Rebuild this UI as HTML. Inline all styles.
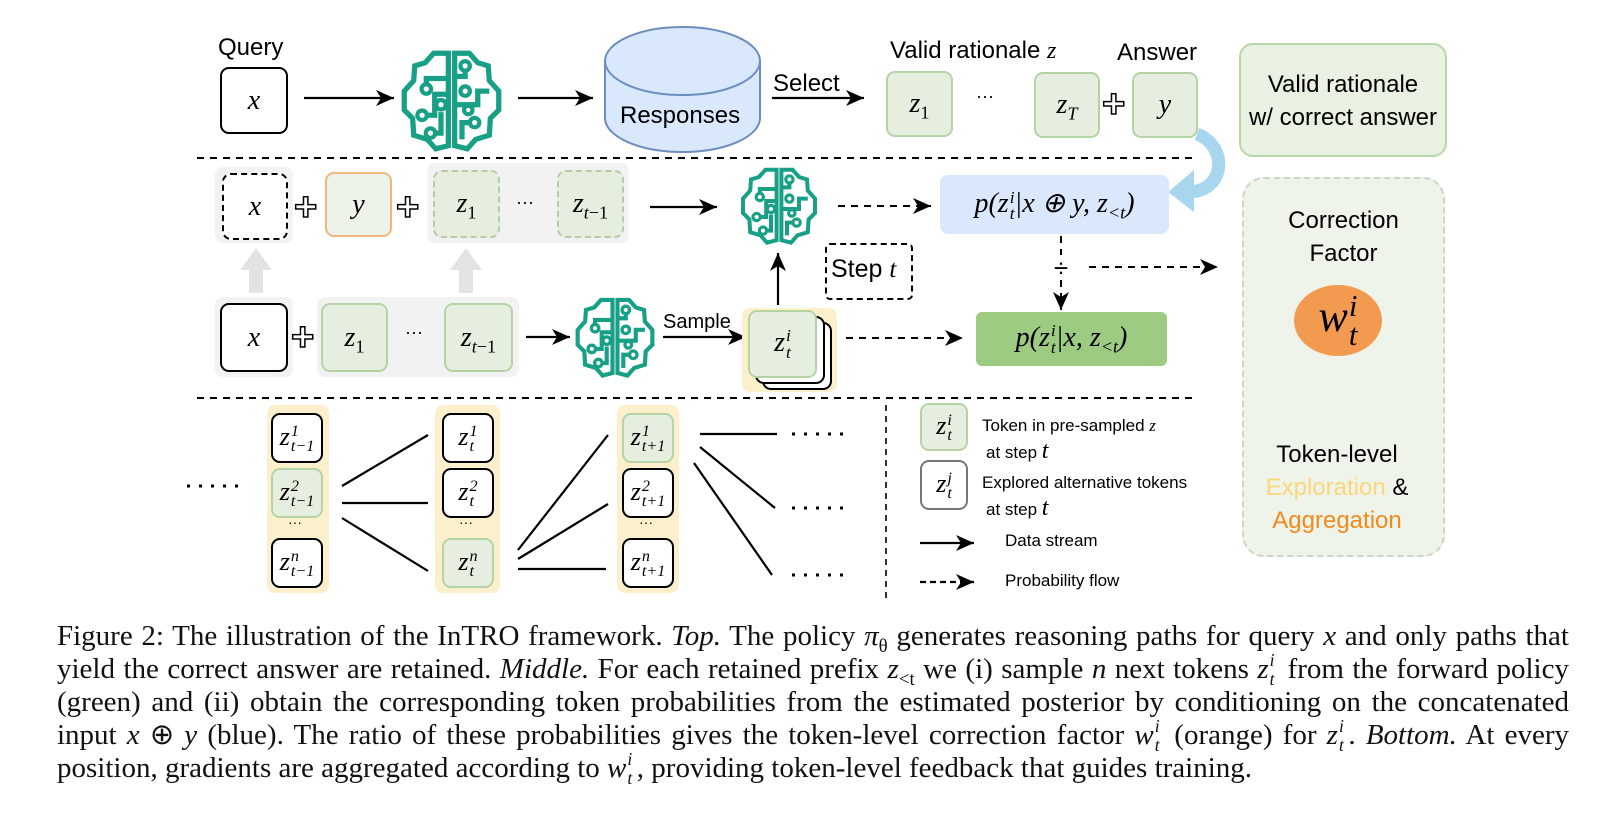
<!DOCTYPE html>
<html><head><meta charset="utf-8">
<style>
body{margin:0;background:#fff;}
#c{position:relative;width:1624px;height:821px;overflow:hidden;background:#fff;font-family:"Liberation Sans",sans-serif;}
.a{position:absolute;box-sizing:border-box;}
.bx{position:absolute;box-sizing:border-box;border-radius:9px;display:flex;align-items:center;justify-content:center;font-family:"Liberation Serif",serif;font-style:italic;font-size:28px;}
.m{font-family:"Liberation Serif",serif;font-style:italic;}
.ss{display:inline-flex;flex-direction:column;vertical-align:middle;font-size:0.62em;line-height:0.95;font-style:italic;margin-left:1px;}
sub{font-size:0.65em;font-style:normal;line-height:0;}
.t{position:absolute;white-space:nowrap;}
.g{background:#e6efdf;border:2px solid #b5d3a4;}
.w{background:#fff;border:2px solid #000;}
.pl{position:absolute;font-size:40px;font-weight:bold;-webkit-text-stroke:1.5px #000;color:#fff;line-height:40px;}
.cap{position:absolute;left:57px;top:620px;width:1512px;font-family:"Liberation Serif",serif;font-size:29px;line-height:33px;text-align:justify;color:#111;}
.cs{display:inline-block;position:relative;width:0.36em;height:0.1em;}
.cs b,.cs u{position:absolute;left:1px;font-size:0.6em;font-weight:normal;font-style:italic;text-decoration:none;line-height:1;}
.cs b{top:-1.35em;} .cs u{top:-0.25em;}
</style></head><body><div id="c">

<svg class="a" style="left:0;top:0" width="1624" height="821">
<defs>
<marker id="ah2" markerWidth="20" markerHeight="16" refX="18" refY="8" orient="auto" markerUnits="userSpaceOnUse"><path d="M0,0 L18,8 L0,16 L5,8z" fill="#000"/></marker>
<symbol id="brain" viewBox="0 0 100 100">
<g fill="none" stroke="#17a085" stroke-width="5" stroke-linejoin="miter">
<path d="M47,6 L33,6 L25,15 L15,18 L14,32 L5,42 L5,60 L13,68 L14,84 L27,88 L35,97 L47,94 Z"/>
<path d="M53,6 L67,6 L75,15 L85,18 L86,32 L95,42 L95,60 L87,68 L86,84 L73,88 L65,97 L53,94 Z"/>
<path d="M47,45 L34,45 L34,65 L22,65"/><path d="M47,30 L26,30 L26,40"/><path d="M40,62 L40,82 L30,82"/>
<path d="M53,28 L63,28 L63,20"/><path d="M53,55 L75,55 L75,42 L86,42"/><path d="M60,88 L60,72 L72,72"/>
</g>
<g fill="#fff" stroke="#17a085" stroke-width="4">
<circle cx="22" cy="65" r="4.5"/><circle cx="26" cy="40" r="4.5"/><circle cx="30" cy="82" r="4.5"/><circle cx="40" cy="55" r="4.5"/>
<circle cx="63" cy="18" r="4.5"/><circle cx="63" cy="42" r="4.5"/><circle cx="72" cy="72" r="4.5"/><circle cx="66" cy="60" r="4"/>
</g>
</symbol>
</defs>
<use href="#brain" x="399" y="47" width="105" height="105"/>
<use href="#brain" x="738" y="165" width="82" height="80"/>
<use href="#brain" x="573" y="295" width="84" height="83"/>

<g stroke="#000" stroke-width="2.2" fill="none">
<line x1="304" y1="98" x2="394" y2="98" marker-end="url(#ah2)"/>
<line x1="518" y1="98" x2="593" y2="98" marker-end="url(#ah2)"/>
<line x1="772" y1="98" x2="864" y2="98" marker-end="url(#ah2)"/>
<line x1="650" y1="207" x2="717" y2="207" marker-end="url(#ah2)"/>
<line x1="526" y1="337" x2="570" y2="337" marker-end="url(#ah2)"/>
<line x1="663" y1="337" x2="746" y2="337" marker-end="url(#ah2)"/>
<line x1="778" y1="305" x2="778" y2="253" marker-end="url(#ah2)"/>
</g>
<g stroke="#000" stroke-width="2" fill="none" stroke-dasharray="7,6">
<line x1="197" y1="158" x2="1198" y2="158"/>
<line x1="197" y1="398" x2="1198" y2="398"/>
<line x1="838" y1="206" x2="931" y2="206" marker-end="url(#ah2)"/>
<line x1="846" y1="338" x2="963" y2="338" marker-end="url(#ah2)"/>
<line x1="1089" y1="267" x2="1218" y2="267" marker-end="url(#ah2)"/>
<line x1="1061" y1="236" x2="1061" y2="255"/>
<line x1="1061" y1="280" x2="1061" y2="310" marker-end="url(#ah2)"/>
<line x1="886" y1="405" x2="886" y2="598" stroke-dasharray="6,5" stroke-width="1.6"/>
</g>
<text x="1061" y="277" font-size="26" text-anchor="middle" font-family="Liberation Sans">÷</text>
<path d="M605,61 L605,118 A77.5,34 0 0 0 760,118 L760,61" fill="#dae8fc" stroke="#6c8ebf" stroke-width="2"/>
<ellipse cx="682.5" cy="61" rx="77.5" ry="34" fill="#dae8fc" stroke="#6c8ebf" stroke-width="2"/>
<path d="M1197,134 C1228,146 1226,190 1190,192" fill="none" stroke="#a9d6ef" stroke-width="13"/>
<polygon points="1194,170 1194,212 1168,192" fill="#a9d6ef"/>
<g fill="#e3e3e3"><rect x="249" y="268" width="14" height="25"/><polygon points="240,270 272,270 256,248"/>
<rect x="459" y="268" width="14" height="25"/><polygon points="450,270 482,270 466,248"/></g>
<rect x="1332" y="367" width="12" height="50" fill="#fcd7a6"/><polygon points="1322,415 1354,415 1338,438" fill="#fcd7a6"/>
<g stroke="#000" stroke-width="2.2">
<line x1="342" y1="486" x2="428" y2="435"/><line x1="342" y1="503" x2="428" y2="503"/><line x1="342" y1="518" x2="428" y2="571"/>
<line x1="518" y1="550" x2="608" y2="435"/><line x1="518" y1="559" x2="608" y2="504"/><line x1="518" y1="569" x2="606" y2="569"/>
<line x1="700" y1="434" x2="777" y2="434"/><line x1="700" y1="447" x2="775" y2="508"/><line x1="694" y1="463" x2="772" y2="575"/>
</g>
<g stroke="#000" stroke-width="3" stroke-dasharray="3,9">
<line x1="187" y1="486" x2="246" y2="486"/><line x1="792" y1="434" x2="852" y2="434"/><line x1="792" y1="508" x2="852" y2="508"/><line x1="792" y1="575" x2="852" y2="575"/>
</g>
<line x1="920" y1="543" x2="974" y2="543" stroke="#000" stroke-width="2.2" marker-end="url(#ah2)"/>
<line x1="920" y1="582" x2="974" y2="582" stroke="#000" stroke-width="2.2" stroke-dasharray="6,4" marker-end="url(#ah2)"/>
</svg>

<div class="t" style="left:218px;top:34px;font-size:24px;">Query</div>
<div class="bx w" style="left:220px;top:67px;width:68px;height:67px;"><span>x</span></div>
<div class="t" style="left:620px;top:102px;font-size:24px;">Responses</div>
<div class="t" style="left:773px;top:70px;font-size:24px;">Select</div>
<div class="t" style="left:890px;top:37px;font-size:24px;">Valid rationale <span class="m">z</span></div>
<div class="t" style="left:1117px;top:39px;font-size:24px;">Answer</div>
<div class="bx g" style="left:886px;top:71px;width:67px;height:66px;"><span>z<sub>1</sub></span></div>
<div class="t" style="left:976px;top:86px;font-size:18px;">···</div>
<div class="bx g" style="left:1034px;top:72px;width:66px;height:66px;"><span>z<sub><i>T</i></sub></span></div>
<div class="pl" style="left:1102px;top:84px;">+</div>
<div class="bx g" style="left:1132px;top:72px;width:66px;height:66px;"><span>y</span></div>
<div class="a" style="left:1239px;top:43px;width:208px;height:114px;background:#e8f1e2;border:2px solid #b9d7a8;border-radius:14px;text-align:center;font-size:24px;line-height:33px;padding-top:23px;white-space:nowrap;">Valid rationale<br>w/ correct answer</div>

<div class="a" style="left:215px;top:167px;width:78px;height:76px;background:#f2f2f2;border-radius:8px;"></div>
<div class="bx" style="left:222px;top:173px;width:66px;height:67px;border:2px dashed #000;background:#fff;"><span>x</span></div>
<div class="pl" style="left:294px;top:187px;">+</div>
<div class="bx" style="left:325px;top:172px;width:67px;height:65px;background:#edf3e9;border:2px solid #f1b77a;"><span>y</span></div>
<div class="pl" style="left:396px;top:187px;">+</div>
<div class="a" style="left:427px;top:163px;width:202px;height:80px;background:#f2f2f2;border-radius:8px;"></div>
<div class="bx" style="left:433px;top:170px;width:67px;height:68px;background:#e6efdf;border:2px dashed #b5cca6;"><span>z<sub>1</sub></span></div>
<div class="t" style="left:516px;top:192px;font-size:18px;">···</div>
<div class="bx" style="left:557px;top:170px;width:67px;height:68px;background:#e6efdf;border:2px dashed #b5cca6;"><span>z<sub><i>t</i>−1</sub></span></div>
<div class="bx" style="left:940px;top:175px;width:229px;height:59px;background:#dae8fc;border-radius:8px;font-size:28px;"><span>p(z<span class="ss"><span>i</span><span>t</span></span>|x ⊕ y, z<sub><i>&lt;t</i></sub>)</span></div>
<div class="a" style="left:825px;top:243px;width:88px;height:57px;border:2px dashed #000;border-radius:5px;font-size:25px;padding:10px 0 0 4px;white-space:nowrap;">Step <span class="m">t</span></div>

<div class="a" style="left:215px;top:297px;width:78px;height:80px;background:#f2f2f2;border-radius:8px;"></div>
<div class="bx w" style="left:220px;top:303px;width:68px;height:69px;"><span>x</span></div>
<div class="pl" style="left:291px;top:317px;">+</div>
<div class="a" style="left:317px;top:297px;width:202px;height:80px;background:#f2f2f2;border-radius:8px;"></div>
<div class="bx g" style="left:321px;top:303px;width:67px;height:69px;"><span>z<sub>1</sub></span></div>
<div class="t" style="left:405px;top:322px;font-size:18px;">···</div>
<div class="bx g" style="left:444px;top:303px;width:69px;height:69px;"><span>z<sub><i>t</i>−1</sub></span></div>
<div class="t" style="left:663px;top:311px;font-size:20px;">Sample</div>
<div class="a" style="left:742px;top:308px;width:95px;height:84px;background:#fcefcc;border-radius:8px;"></div>
<div class="a" style="left:762px;top:322px;width:70px;height:68px;background:#fff;border:2px solid #000;border-radius:9px;"></div>
<div class="a" style="left:755px;top:316px;width:70px;height:68px;background:#fff;border:2px solid #000;border-radius:9px;"></div>
<div class="bx g" style="left:748px;top:310px;width:69px;height:68px;"><span>z<span class="ss"><span>i</span><span>t</span></span></span></div>
<div class="bx" style="left:976px;top:312px;width:191px;height:54px;background:#9dcb81;border-radius:6px;font-size:28px;"><span>p(z<span class="ss"><span>i</span><span>t</span></span>|x, z<sub><i>&lt;t</i></sub>)</span></div>

<div class="a" style="left:1242px;top:177px;width:203px;height:380px;background:#eef4ea;border:2px dashed #ccd6c6;border-radius:22px;"></div>
<div class="t" style="left:1242px;top:204px;width:203px;text-align:center;font-size:24px;line-height:33px;">Correction<br>Factor</div>
<div class="a" style="left:1294px;top:285px;width:88px;height:71px;border-radius:50%;background:#f29a4f;display:flex;align-items:center;justify-content:center;font-family:'Liberation Serif',serif;font-style:italic;font-size:44px;"><span>w<span class="ss" style="font-size:0.7em;"><span>i</span><span>t</span></span></span></div>
<div class="t" style="left:1242px;top:438px;width:190px;text-align:center;font-size:24px;line-height:33px;">Token-level<br><span style="color:#fbd67a">Exploration</span> &amp;<br><span style="color:#f08a1c">Aggregation</span></div>

<div class="a" style="left:267px;top:405px;width:62px;height:188px;background:#fcefcc;border-radius:8px;"></div>
<div class="a" style="left:435px;top:405px;width:65px;height:188px;background:#fcefcc;border-radius:8px;"></div>
<div class="a" style="left:617px;top:405px;width:62px;height:188px;background:#fcefcc;border-radius:8px;"></div>

<div class="bx w" style="left:271px;top:413px;width:52px;height:50px;font-size:26px;"><span>z<span class="ss"><span>1</span><span>t−1</span></span></span></div>
<div class="bx g" style="left:271px;top:468px;width:52px;height:50px;font-size:26px;"><span>z<span class="ss"><span>2</span><span>t−1</span></span></span></div>
<div class="t" style="left:288px;top:514px;font-size:14px;">···</div>
<div class="bx w" style="left:271px;top:538px;width:52px;height:50px;font-size:26px;"><span>z<span class="ss"><span>n</span><span>t−1</span></span></span></div>

<div class="bx w" style="left:442px;top:413px;width:52px;height:50px;font-size:26px;"><span>z<span class="ss"><span>1</span><span>t</span></span></span></div>
<div class="bx w" style="left:442px;top:468px;width:52px;height:50px;font-size:26px;"><span>z<span class="ss"><span>2</span><span>t</span></span></span></div>
<div class="t" style="left:459px;top:514px;font-size:14px;">···</div>
<div class="bx g" style="left:442px;top:538px;width:52px;height:50px;font-size:26px;"><span>z<span class="ss"><span>n</span><span>t</span></span></span></div>

<div class="bx g" style="left:622px;top:413px;width:52px;height:50px;font-size:26px;"><span>z<span class="ss"><span>1</span><span>t+1</span></span></span></div>
<div class="bx w" style="left:622px;top:468px;width:52px;height:50px;font-size:26px;"><span>z<span class="ss"><span>2</span><span>t+1</span></span></span></div>
<div class="t" style="left:639px;top:514px;font-size:14px;">···</div>
<div class="bx w" style="left:622px;top:538px;width:52px;height:50px;font-size:26px;"><span>z<span class="ss"><span>n</span><span>t+1</span></span></span></div>

<div class="bx g" style="left:920px;top:403px;width:48px;height:48px;font-size:26px;"><span>z<span class="ss"><span>i</span><span>t</span></span></span></div>
<div class="t" style="left:982px;top:416px;font-size:17px;">Token in pre-sampled <span class="m">z</span></div>
<div class="t" style="left:986px;top:438px;font-size:17px;">at step <span class="m" style="font-size:24px;">t</span></div>
<div class="bx" style="left:920px;top:460px;width:48px;height:50px;font-size:26px;background:#fff;border:2px solid #777;"><span>z<span class="ss"><span>j</span><span>t</span></span></span></div>
<div class="t" style="left:982px;top:473px;font-size:17px;">Explored alternative tokens</div>
<div class="t" style="left:986px;top:495px;font-size:17px;">at step <span class="m" style="font-size:24px;">t</span></div>
<div class="t" style="left:1005px;top:531px;font-size:17px;">Data stream</div>
<div class="t" style="left:1005px;top:571px;font-size:17px;">Probability flow</div>

<div class="cap">Figure 2: The illustration of the InTRO framework. <i>Top.</i> The policy <i>π<sub>θ</sub></i> generates reasoning paths for query <i>x</i> and only paths that yield the correct answer are retained. <i>Middle.</i> For each retained prefix <i>z<sub>&lt;t</sub></i> we (i) sample <i>n</i> next tokens <i>z</i><span class="cs"><b>i</b><u>t</u></span> from the forward policy (green) and (ii) obtain the corresponding token probabilities from the estimated posterior by conditioning on the concatenated input <i>x</i> ⊕ <i>y</i> (blue). The ratio of these probabilities gives the token-level correction factor <i>w</i><span class="cs"><b>i</b><u>t</u></span> (orange) for <i>z</i><span class="cs"><b>i</b><u>t</u></span>. <i>Bottom.</i> At every position, gradients are aggregated according to <i>w</i><span class="cs"><b>i</b><u>t</u></span>, providing token-level feedback that guides training.</div>
</div></body></html>
